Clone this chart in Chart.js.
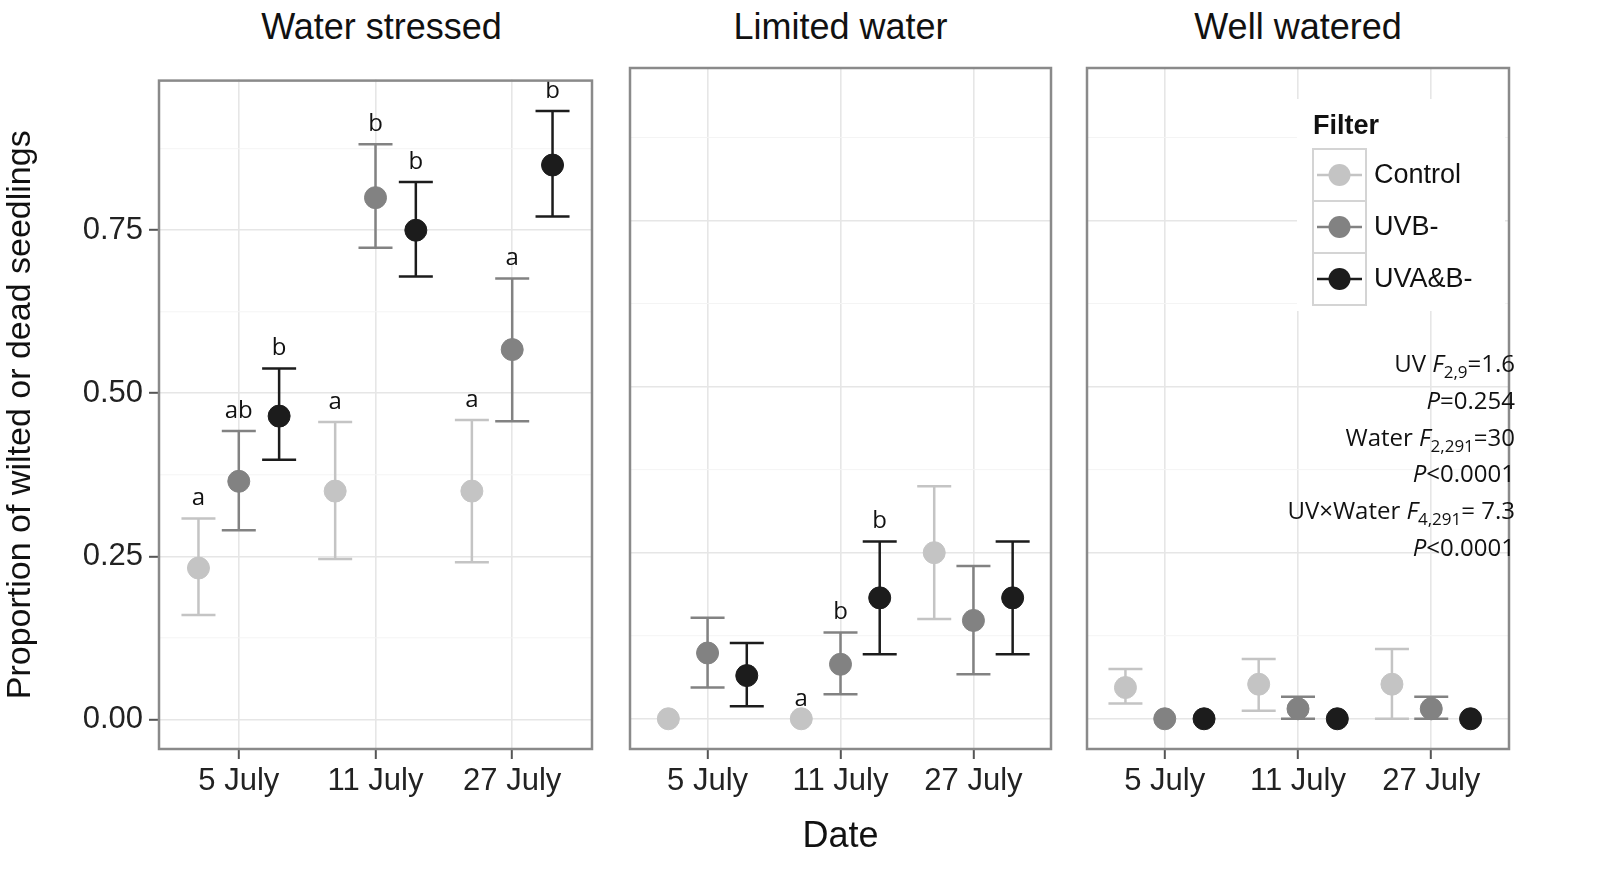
<!DOCTYPE html>
<html lang="en">
<head>
<meta charset="UTF-8">
<title>Wilted seedlings</title>
<script src="https://cdn.jsdelivr.net/npm/chart.js"></script>
<style>
  body { margin: 0; background: #fff; width: 1602px; height: 886px; position: relative; overflow: hidden; font-family: "Liberation Sans", Arial, sans-serif; }
  .box { position: absolute; top: 55px; height: 765px; }
  .strip { position: absolute; top: 6px; font-size: 36px; text-align: center; color: #111; }
  .xtitle { position: absolute; top: 814px; left: 617px; width: 447px; text-align: center; font-size: 36px; color: #111; }
  .note { position: absolute; right: 87px; top: 345px; text-align: right; font-family: "Open Sans", sans-serif; font-size: 24px; line-height: 36.8px; color: #111; }
  .note sub { font-size: 17px; vertical-align: -6px; line-height: 0; }
</style>
</head>
<body>
<div class="strip" style="left:158px;width:447px">Water stressed</div>
<div class="strip" style="left:617px;width:447px">Limited water</div>
<div class="strip" style="left:1074px;width:448px">Well watered</div>
<div class="box" style="left:0;width:605px"><canvas id="c0"></canvas></div>
<div class="box" style="left:617px;width:447px"><canvas id="c1"></canvas></div>
<div class="box" style="left:1074px;width:448px"><canvas id="c2"></canvas></div>
<div class="xtitle">Date</div>
<div class="note">
  UV <i>F</i><sub>2,9</sub>=1.6<br>
  <i>P</i>=0.254<br>
  Water <i>F</i><sub>2,291</sub>=30<br>
  <i>P</i>&lt;0.0001<br>
  UV×Water <i>F</i><sub>4,291</sub>= 7.3<br>
  <i>P</i>&lt;0.0001
</div>
<script>
const dates = ['5 July', '11 July', '27 July'];
const panels = ['Water stressed', 'Limited water', 'Well watered'];
const filters = ['Control', 'UVB-', 'UVA&B-'];
const colors = ['#c4c4c4', '#828282', '#1c1c1c'];
const yTicks = [0, 0.25, 0.5, 0.75];

// rows = filter, cols = date
const meanWS = [[0.232, 0.35, 0.35], [0.365, 0.80, 0.567], [0.465, 0.75, 0.85]];
const loWS   = [[0.16, 0.246, 0.241], [0.29, 0.723, 0.457], [0.398, 0.679, 0.771]];
const hiWS   = [[0.308, 0.456, 0.459], [0.442, 0.882, 0.676], [0.538, 0.824, 0.933]];
const letWS  = [['a', 'a', 'a'], ['ab', 'b', 'a'], ['b', 'b', 'b']];

const meanLW = [[0, 0, 0.25], [0.099, 0.082, 0.148], [0.065, 0.182, 0.182]];
const loLW   = [[null, null, 0.15], [0.047, 0.037, 0.067], [0.019, 0.097, 0.097]];
const hiLW   = [[null, null, 0.35], [0.152, 0.13, 0.23], [0.114, 0.267, 0.267]];
const letLW  = [['', 'a', ''], ['', 'b', ''], ['', 'b', '']];

const meanWW = [[0.047, 0.052, 0.052], [0, 0.015, 0.015], [0, 0, 0]];
const loWW   = [[0.023, 0.012, 0], [null, 0, 0], [null, null, null]];
const hiWW   = [[0.075, 0.09, 0.105], [null, 0.033, 0.033], [null, null, null]];
const letWW  = [['', '', ''], ['', '', ''], ['', '', '']];

const dodge = [-0.295, 0, 0.295];
const panelData = [
  [meanWS, loWS, hiWS, letWS],
  [meanLW, loLW, hiLW, letLW],
  [meanWW, loWW, hiWW, letWW]
];

function makeChart(idx) {
  const [mean, lo, hi, lets] = panelData[idx];
  const first = idx === 0;
  const datasets = filters.map((f, k) => ({
    label: f,
    data: dates.map((d, j) => ({ x: j + 1 + dodge[k], y: mean[k][j] })),
    backgroundColor: colors[k],
    borderColor: colors[k],
    pointRadius: 11,
    pointHoverRadius: 11,
    showLine: false
  }));

  const extras = {
    id: 'extras' + idx,
    beforeDatasetsDraw(chart) {
      const { ctx, chartArea: a, scales: { x, y } } = chart;
      ctx.save();
      // minor grid
      ctx.strokeStyle = '#f4f4f4';
      ctx.lineWidth = 1;
      [0.125, 0.375, 0.625, 0.875].forEach(v => {
        const py = y.getPixelForValue(v);
        ctx.beginPath(); ctx.moveTo(a.left, py); ctx.lineTo(a.right, py); ctx.stroke();
      });
      // error bars
      ctx.lineWidth = 2.5;
      filters.forEach((f, k) => {
        dates.forEach((d, j) => {
          if (lo[k][j] === null) return;
          const px = x.getPixelForValue(j + 1 + dodge[k]);
          const pl = y.getPixelForValue(lo[k][j]);
          const ph = y.getPixelForValue(hi[k][j]);
          ctx.strokeStyle = colors[k];
          ctx.beginPath();
          ctx.moveTo(px, pl); ctx.lineTo(px, ph);
          ctx.moveTo(px - 17, pl); ctx.lineTo(px + 17, pl);
          ctx.moveTo(px - 17, ph); ctx.lineTo(px + 17, ph);
          ctx.stroke();
        });
      });
      ctx.restore();
    },
    afterDatasetsDraw(chart) {
      const { ctx, chartArea: a, scales: { x, y } } = chart;
      ctx.save();
      // significance letters
      ctx.fillStyle = '#111';
      ctx.font = '24px "Open Sans", sans-serif';
      ctx.textAlign = 'center';
      ctx.textBaseline = 'bottom';
      filters.forEach((f, k) => {
        dates.forEach((d, j) => {
          if (!lets[k][j]) return;
          const top = hi[k][j] !== null ? hi[k][j] : mean[k][j];
          ctx.fillText(lets[k][j], x.getPixelForValue(j + 1 + dodge[k]), y.getPixelForValue(top) - 8);
        });
      });
      // panel border
      ctx.strokeStyle = '#8a8a8a';
      ctx.lineWidth = 2.5;
      ctx.strokeRect(a.left + 1, a.top + 1, a.right - a.left - 2, a.bottom - a.top - 2);
      // legend
      if (idx === 2) {
        const lx = a.left + 227, ly = a.top + 82;
        ctx.fillStyle = '#fff';
        ctx.fillRect(lx - 16, ly - 50, 208, 212);
        ctx.fillStyle = '#111';
        ctx.font = 'bold 27px "Liberation Sans", Arial, sans-serif';
        ctx.textAlign = 'left';
        ctx.textBaseline = 'middle';
        ctx.fillText('Filter', lx, ly - 22);
        filters.forEach((f, k) => {
          const by = ly + k * 52;
          ctx.fillStyle = '#fff';
          ctx.fillRect(lx, by, 53, 52);
          ctx.strokeStyle = '#d4d4d4';
          ctx.lineWidth = 2;
          ctx.strokeRect(lx, by, 53, 52);
          ctx.strokeStyle = colors[k];
          ctx.lineWidth = 2.5;
          ctx.beginPath(); ctx.moveTo(lx + 4, by + 26); ctx.lineTo(lx + 49, by + 26); ctx.stroke();
          ctx.fillStyle = colors[k];
          ctx.beginPath(); ctx.arc(lx + 26.5, by + 26, 11, 0, Math.PI * 2); ctx.fill();
          ctx.fillStyle = '#111';
          ctx.font = '27px "Liberation Sans", Arial, sans-serif';
          ctx.fillText(f, lx + 61, by + 27);
        });
      }
      ctx.restore();
    }
  };

  return new Chart(document.getElementById('c' + idx), {
    type: 'scatter',
    data: { datasets },
    plugins: [extras],
    options: {
      responsive: true,
      maintainAspectRatio: false,
      animation: false,
      events: [],
      layout: { padding: 0 },
      plugins: { legend: { display: false }, tooltip: { enabled: false } },
      scales: {
        x: {
          type: 'linear',
          min: 0.409,
          max: 3.591,
          afterBuildTicks: ax => { ax.ticks = [1, 2, 3].map(v => ({ value: v })); },
          afterFit: ax => { ax.height = 70; },
          grid: { color: '#e6e6e6', lineWidth: 1.6, tickColor: '#555', tickLength: 9, tickWidth: 2 },
          border: { display: false },
          ticks: {
            color: '#222',
            font: { size: 31, family: '"Liberation Sans", Arial, sans-serif' },
            padding: 4,
            maxRotation: 0,
            callback: v => dates[v - 1]
          }
        },
        y: {
          min: -0.047,
          max: 0.981,
          afterBuildTicks: ax => { ax.ticks = yTicks.map(v => ({ value: v })); },
          afterFit: ax => { ax.width = first ? 158 : 0; },
          grid: { color: '#e6e6e6', lineWidth: 1.6, tickColor: '#555', tickLength: first ? 9 : 0, tickWidth: 2, drawTicks: first },
          border: { display: false },
          ticks: {
            display: first,
            color: '#222',
            font: { size: 31, family: '"Liberation Sans", Arial, sans-serif' },
            padding: 6,
            callback: v => v.toFixed(2)
          },
          title: {
            display: first,
            text: 'Proportion of wilted or dead seedlings',
            color: '#111',
            font: { size: 34, family: '"Liberation Sans", Arial, sans-serif' },
            padding: { top: 0, bottom: 8 }
          }
        }
      }
    }
  });
}

[0, 1, 2].forEach(makeChart);
</script>
</body>
</html>
